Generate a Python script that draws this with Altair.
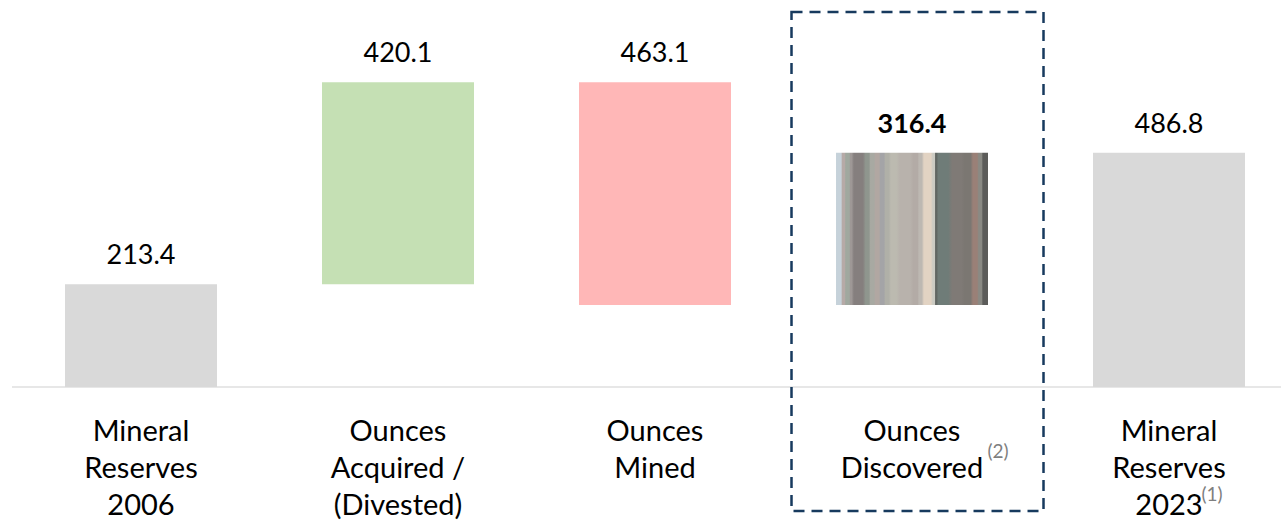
import altair as alt
import pandas as pd

# Waterfall: gold mineral reserves bridge, 2006 -> 2023 (Moz)
categories = [
    "Mineral Reserves 2006",
    "Ounces Acquired / (Divested)",
    "Ounces Mined",
    "Ounces Discovered",
    "Mineral Reserves 2023",
]
axis_lines = [
    "Mineral\nReserves\n2006",
    "Ounces\nAcquired /\n(Divested)",
    "Ounces\nMined",
    "Ounces\nDiscovered",
    "Mineral\nReserves\n2023",
]
changes = [213.4, 420.1, -463.1, 316.4, 486.8]
kinds = ["total", "increase", "decrease", "highlight", "total"]
footnotes = ["", "", "", "(2)", "(1)"]

# running totals -> floating bar extents
rows = []
running = 0.0
for cat, lines, chg, kind, note in zip(categories, axis_lines, changes, kinds, footnotes):
    if kind == "total":
        start, end = 0.0, chg
        running = chg
    else:
        start, end = running, running + chg
        running = end
    rows.append({
        "category": cat,
        "lines": lines,
        "start": start,
        "end": end,
        "top": max(start, end),
        "label": f"{abs(chg):.1f}",
        "kind": kind,
        "note": note,
    })
df = pd.DataFrame(rows)

FONT = "Lato"
x_scale = alt.Scale(domain=categories, paddingInner=0.4086, paddingOuter=0.1965, align=0.6436)
y_scale = alt.Scale(domain=[-282.7, 804.6], nice=False, zero=False)

base = alt.Chart(df)
x_enc = alt.X("category:N", scale=x_scale, axis=None, sort=categories)
y_start = alt.Y("start:Q", scale=y_scale, axis=None)

baseline = base.transform_filter(alt.datum.kind == "highlight").transform_calculate(
    zero="0"
).mark_rule(color="#e7e7e7", strokeWidth=2).encode(
    x=alt.value(12), x2=alt.value(1281), y=alt.Y("zero:Q", scale=y_scale, axis=None)
)

bars = base.transform_filter(alt.datum.kind != "highlight").mark_bar().encode(
    x=x_enc,
    y=y_start,
    y2="end:Q",
    color=alt.Color(
        "kind:N",
        scale=alt.Scale(domain=["total", "increase", "decrease"],
                        range=["#d9d9d9", "#c5e0b4", "#ffb7b7"]),
        legend=None,
    ),
)

# core-sample style banded fill for the discovered-ounces bar
# (band start as a fraction of bar width, band colour)
bands = [
    (0.000, "#c6d2da"), (0.039, "#b6aaa7"), (0.059, "#a0a89f"), (0.092, "#9e9896"),
    (0.105, "#857f7e"), (0.190, "#8f968e"), (0.222, "#a8a9a2"), (0.255, "#b1a7a2"),
    (0.288, "#a4a4a7"), (0.320, "#b0b0a8"), (0.353, "#bcbab0"), (0.405, "#b8b2ac"),
    (0.503, "#b3aba6"), (0.542, "#bdb8b2"), (0.569, "#e2d3c3"), (0.634, "#cbcbc3"),
    (0.654, "#5f6460"), (0.660, "#6f7c78"), (0.752, "#7f7a76"), (0.837, "#7b7772"),
    (0.895, "#9a8077"), (0.935, "#8a8a84"), (0.961, "#5c5c5a"), (1.000, None),
]
stops = []
for (a, col), (b, _) in zip(bands[:-1], bands[1:]):
    edge = 0.15 * (b - a)
    stops.append(alt.GradientStop(color=col, offset=round(a + edge, 4) if a > 0 else 0.0))
    stops.append(alt.GradientStop(color=col, offset=round(b - edge, 4) if b < 1 else 1.0))
gradient = alt.LinearGradient(gradient="linear", stops=stops, x1=0, x2=1, y1=0, y2=0)

highlight_bar = base.transform_filter(alt.datum.kind == "highlight").mark_bar(
    color=gradient
).encode(x=x_enc, y=y_start, y2="end:Q")

values = base.transform_filter(alt.datum.kind != "highlight").mark_text(
    font=FONT, fontSize=27, color="#000000", baseline="alphabetic", dy=-20
).encode(x=x_enc, y=alt.Y("top:Q", scale=y_scale, axis=None), text="label:N")

values_bold = base.transform_filter(alt.datum.kind == "highlight").mark_text(
    font=FONT, fontSize=27, fontWeight="bold", color="#000000", baseline="alphabetic", dy=-20
).encode(x=x_enc, y=alt.Y("top:Q", scale=y_scale, axis=None), text="label:N")

cat_labels = base.mark_text(
    font=FONT, fontSize=29, color="#000000", baseline="alphabetic",
    lineBreak="\n", lineHeight=37,
).encode(x=x_enc, y=alt.value(441), text="lines:N")

note_discovered = base.transform_filter(alt.datum.category == "Ounces Discovered").mark_text(
    font=FONT, fontSize=19, color="#7f7f7f", baseline="middle", dx=86
).encode(x=x_enc, y=alt.value(452), text="note:N")

note_2023 = base.transform_filter(alt.datum.category == "Mineral Reserves 2023").mark_text(
    font=FONT, fontSize=19, color="#7f7f7f", baseline="middle", dx=43
).encode(x=x_enc, y=alt.value(495), text="note:N")

box = base.transform_filter(alt.datum.kind == "highlight").mark_bar(
    width=252, xOffset=5.5, filled=False, stroke="#173a5e", strokeWidth=2.5,
    strokeDash=[11, 7], fillOpacity=0,
).encode(x=x_enc, y=alt.value(12), y2=alt.value(511))

chart = alt.layer(
    baseline, bars, highlight_bar, values, values_bold, cat_labels,
    note_discovered, note_2023, box,
).properties(
    width=1281, height=523, padding=0, background="#ffffff",
    autosize=alt.AutoSizeParams(type="none"),
).configure_view(stroke=None)

chart.save("out.html", embed_options={"renderer": "svg", "actions": False})
